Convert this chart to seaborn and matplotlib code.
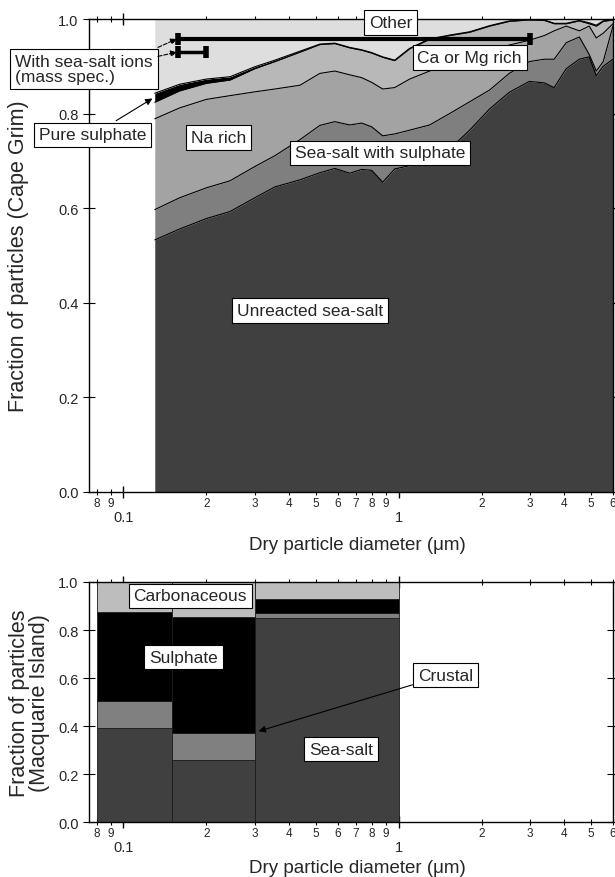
import matplotlib
matplotlib.use("Agg")
import matplotlib.pyplot as plt
import matplotlib.ticker as mticker
import seaborn as sns

# Cape Grim: particle diameter (um) and cumulative upper edge of each class
diam = [0.13, 0.16, 0.20, 0.244, 0.30, 0.355, 0.438, 0.517, 0.586, 0.664, 0.734,
        0.798, 0.875, 0.967, 1.096, 1.295, 1.53, 1.81, 2.14, 2.52, 2.98, 3.38,
        3.67, 4.06, 4.53, 4.92, 5.22, 5.53, 6.0]
unreacted_top = [0.533, 0.556, 0.578, 0.593, 0.622, 0.645, 0.660, 0.675, 0.684, 0.674,
                 0.682, 0.680, 0.655, 0.683, 0.690, 0.705, 0.725, 0.765, 0.810, 0.845,
                 0.868, 0.865, 0.855, 0.895, 0.915, 0.920, 0.880, 0.900, 0.915]
with_sulphate_top = [0.597, 0.622, 0.643, 0.658, 0.688, 0.711, 0.745, 0.775, 0.783, 0.776,
                     0.780, 0.772, 0.753, 0.757, 0.765, 0.776, 0.800, 0.825, 0.850, 0.885,
                     0.910, 0.915, 0.915, 0.950, 0.962, 0.925, 0.890, 0.910, 0.985]
na_rich_top = [0.789, 0.812, 0.830, 0.838, 0.846, 0.852, 0.860, 0.885, 0.890, 0.882,
               0.876, 0.866, 0.852, 0.855, 0.873, 0.890, 0.905, 0.915, 0.925, 0.945,
               0.955, 0.965, 0.975, 0.985, 0.975, 0.985, 0.960, 0.970, 0.990]
ca_mg_top = [0.824, 0.848, 0.864, 0.871, 0.895, 0.910, 0.930, 0.946, 0.948, 0.939,
             0.934, 0.928, 0.919, 0.912, 0.937, 0.957, 0.965, 0.972, 0.985, 0.995,
             0.998, 0.997, 0.990, 0.990, 0.996, 0.990, 0.985, 0.995, 0.998]
pure_sulphate_top = [0.843, 0.862, 0.873, 0.878, 0.899, 0.913, 0.932, 0.947, 0.949, 0.940,
                     0.935, 0.929, 0.920, 0.913, 0.938, 0.958, 0.966, 0.973, 0.986, 0.996,
                     0.999, 0.998, 0.991, 0.991, 0.997, 0.992, 0.987, 0.996, 0.999]

# mass-spectrometer ranges (sea-salt ions)
ms_ranges = [(0.158, 3.0, 0.958), (0.158, 0.20, 0.930)]

# Macquarie Island size bins
bin_lo = [0.08, 0.15, 0.30]
bin_hi = [0.15, 0.30, 1.0]
sea_salt = [0.39, 0.26, 0.85]
crustal = [0.115, 0.11, 0.02]
sulphate = [0.37, 0.485, 0.06]
carbonaceous = [0.125, 0.145, 0.07]

minor_ticks = [0.08, 0.09, 0.2, 0.3, 0.4, 0.5, 0.6, 0.7, 0.8, 0.9, 2, 3, 4, 5, 6]
minor_labels = ['8', '9', '2', '3', '4', '5', '6', '7', '8', '9', '2', '3', '4', '5', '6']

sns.set_style("ticks")
plt.rcParams['font.family'] = ['Liberation Sans', 'DejaVu Sans']

LBL = 12.5
box = dict(boxstyle='square,pad=0.28', fc='white', ec='black', lw=0.8)
arrow = dict(arrowstyle='-|>', color='black', lw=0.8, mutation_scale=10)


def style_axis(ax):
    ax.set_xscale('log')
    ax.set_xlim(0.075, 6)
    ax.set_ylim(0, 1)
    ax.xaxis.set_major_locator(mticker.FixedLocator([0.1, 1]))
    ax.xaxis.set_major_formatter(mticker.FixedFormatter(['0.1', '1']))
    ax.xaxis.set_minor_locator(mticker.FixedLocator(minor_ticks))
    ax.xaxis.set_minor_formatter(mticker.FixedFormatter(minor_labels))
    ax.yaxis.set_major_locator(mticker.MultipleLocator(0.2))
    ax.yaxis.set_major_formatter(mticker.FormatStrFormatter('%.1f'))
    ax.tick_params(which='both', direction='inout', top=True, right=True, color='black')
    ax.tick_params(axis='x', which='major', length=8, width=1, pad=9, labelsize=10.5)
    ax.tick_params(axis='x', which='minor', length=4, width=0.8, pad=1.5, labelsize=8.5)
    ax.tick_params(axis='y', which='major', length=8, width=0.8, labelsize=10.5)
    for s in ax.spines.values():
        s.set_linewidth(1)
        s.set_color('black')
    ax.set_xlabel('Dry particle diameter (μm)', fontsize=13.5)


fig = plt.figure(figsize=(6.15, 8.78), dpi=100)
ax1 = fig.add_axes([0.1447, 0.4385, 0.852, 0.5387])
ax2 = fig.add_axes([0.1447, 0.0626, 0.852, 0.2734])
for ax in (ax1, ax2):
    style_axis(ax)

# --- top panel: stacked areas
zeros = [0] * len(diam)
ones = [1] * len(diam)
layers = [
    (zeros, unreacted_top, '#404040'),
    (unreacted_top, with_sulphate_top, '#7f7f7f'),
    (with_sulphate_top, na_rich_top, '#a3a3a3'),
    (na_rich_top, ca_mg_top, '#b8b8b8'),
    (ca_mg_top, pure_sulphate_top, '#000000'),
    (pure_sulphate_top, ones, '#dedede'),
]
for lo, hi, col in layers:
    ax1.fill_between(diam, lo, hi, color=col, lw=0)
for edge in (unreacted_top, with_sulphate_top, na_rich_top, ca_mg_top, pure_sulphate_top):
    sns.lineplot(x=diam, y=edge, ax=ax1, color='black', lw=0.8, estimator=None, sort=False)

for x0, x1, yv in ms_ranges:
    ax1.plot([x0, x1], [yv, yv], color='black', lw=3 if x1 > 1 else 2.5, solid_capstyle='butt')
    ax1.plot([x0, x1], [yv, yv], ls='none', marker='|', ms=9, mew=4, color='black')

ax1.set_ylabel('Fraction of particles (Cape Grim)', fontsize=15.5)
ax1.yaxis.set_label_coords(-0.1145, 0.5)
ax1.xaxis.set_label_coords(0.513, -0.093)

ax1.text(0.936, 0.993, 'Other', fontsize=LBL, ha='center', va='center', bbox=box, zorder=6)
ax1.text(1.81, 0.918, 'Ca or Mg rich', fontsize=LBL, ha='center', va='center', bbox=box)
ax1.text(0.221, 0.75, 'Na rich', fontsize=LBL, ha='center', va='center', bbox=box)
ax1.text(0.853, 0.717, 'Sea-salt with sulphate', fontsize=LBL, ha='center', va='center', bbox=box)
ax1.text(0.476, 0.383, 'Unreacted sea-salt', fontsize=LBL, ha='center', va='center', bbox=box)
ax1.annotate('Pure sulphate', xy=(0.130, 0.835), xytext=(0.0775, 0.755), fontsize=LBL,
             ha='center', va='center', bbox=box, arrowprops=arrow, annotation_clip=False)
ax1.text(0.0405, 0.895, 'With sea-salt ions\n(mass spec.)', fontsize=LBL, ha='left',
         va='center', bbox=box, linespacing=1.0)
for (x0, x1, yv), ys in zip(ms_ranges, (0.940, 0.921)):
    ax1.annotate('', xy=(x0 * 0.99, yv), xytext=(0.1335, ys), annotation_clip=False,
                 arrowprops=dict(arrowstyle='-|>', color='black', lw=0.8, ls='--',
                                 mutation_scale=9, shrinkA=0, shrinkB=0))

# --- bottom panel: stacked size bins
widths = [h - l for l, h in zip(bin_lo, bin_hi)]
bottom = [0, 0, 0]
for vals, col in ((sea_salt, '#404040'), (crustal, '#808080'),
                  (sulphate, '#000000'), (carbonaceous, '#bdbdbd')):
    ax2.bar(bin_lo, vals, width=widths, bottom=bottom, align='edge', color=col,
            edgecolor='#1a1a1a', lw=0.6)
    bottom = [b + v for b, v in zip(bottom, vals)]

ax2.set_ylabel('Fraction of particles\n(Macquarie Island)', fontsize=15.5, linespacing=0.95)
ax2.yaxis.set_label_coords(-0.0735, 0.5)
ax2.xaxis.set_label_coords(0.513, -0.154)

ax2.text(0.175, 0.942, 'Carbonaceous', fontsize=LBL, ha='center', va='center', bbox=box)
ax2.text(0.165, 0.687, 'Sulphate', fontsize=LBL, ha='center', va='center', bbox=box)
ax2.text(0.616, 0.304, 'Sea-salt', fontsize=LBL, ha='center', va='center', bbox=box)
ax2.annotate('', xy=(0.303, 0.375), xytext=(1.147, 0.575), arrowprops=arrow)
ax2.text(1.48, 0.612, 'Crustal', fontsize=LBL, ha='center', va='center', bbox=box)

fig.savefig('out.png', dpi=100)
